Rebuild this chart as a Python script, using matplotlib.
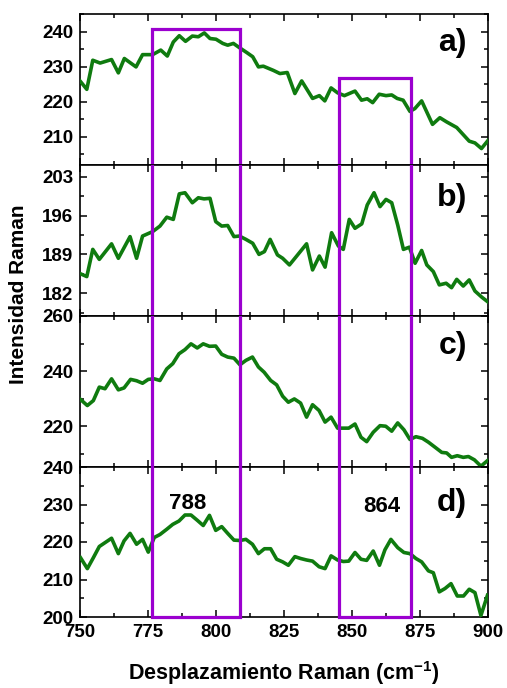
import matplotlib
matplotlib.use("Agg")
import matplotlib.pyplot as plt
from matplotlib.ticker import FixedLocator, MultipleLocator

plt.rcParams['font.family'] = ['Liberation Sans', 'DejaVu Sans']
plt.rcParams['font.weight'] = 'bold'
plt.rcParams['mathtext.fontset'] = 'custom'
plt.rcParams['mathtext.rm'] = 'Liberation Sans:bold'
plt.rcParams['mathtext.bf'] = 'Liberation Sans:bold'

# spectrum a)
xa = [750, 752.5, 754.7, 757.4, 761.6, 764.1, 766.3, 770.6, 773, 776.7, 779.7, 782.1,
      784.3, 786.5, 788.8, 791.3, 793.5, 795.7, 797.8, 800, 802.5, 804.3, 806.4, 808.6,
      811.3, 813.5, 815.6, 817.4, 821.1, 823.5, 826.2, 829, 831.5, 835.5, 838, 840,
      842.3, 844.7, 847.2, 851.1, 853.5, 855.6, 857.6, 860, 862.5, 864.6, 866.6, 868.8,
      871.3, 873.1, 875.6, 879.6, 882.3, 884.8, 888.5, 893.1, 895.2, 897.6, 900]
ya = [226, 223.6, 231.9, 231.1, 232.1, 228.3, 232.4, 230, 233.5, 233.5, 234.8, 233.1,
      237.1, 238.9, 237.3, 238.8, 238.6, 239.7, 238.1, 237.9, 236.7, 236.2, 236.7, 235.5,
      234.1, 232.9, 230, 230.2, 229, 228.1, 228.4, 222.4, 226, 221, 221.8, 220.3,
      224, 222.6, 221.8, 223.1, 220.5, 220.9, 219.8, 222.2, 221.8, 222, 221, 220.5,
      217.3, 218.1, 220.3, 213.6, 215.5, 214.3, 212.7, 208.8, 208.3, 206.7, 209]

# spectrum b)
xb = [750.2, 752.5, 754.7, 757.1, 761.6, 764.1, 768.4, 770.8, 773, 776.7, 779.4, 781.9,
      784.3, 786.5, 788.6, 791.3, 793.5, 795.6, 797.8, 799.9, 802.1, 804.3, 806.6, 808.6,
      811, 813.5, 815.8, 817.8, 819.9, 822.6, 824.5, 827, 829, 833.3, 835.5, 838, 840.1,
      842.5, 845, 846.8, 849, 851.1, 853.6, 855.6, 858.1, 860.3, 862.5, 864.6, 866.8,
      868.9, 871.1, 873.2, 875.6, 877.5, 879.9, 882.1, 884.6, 886.6, 888.5, 890.9, 893.1,
      895.2, 897.7, 899.8]
yb = [185.5, 185, 189.9, 188.1, 190.9, 188.3, 192.2, 188.3, 192.3, 193.1, 194.1, 195.7,
      195.3, 199.9, 200.1, 198.3, 199.2, 199, 199.1, 194.9, 194.1, 194.2, 192.2, 192.3,
      191.7, 191, 189, 189.5, 191.7, 188.9, 188.3, 187.1, 188.3, 190.9, 186.2, 188.7, 186.7,
      192.9, 190.5, 189.9, 195.3, 193.7, 194.5, 197.9, 200.1, 197.6, 198.9, 198.3, 194.3,
      189.9, 190.3, 187.4, 189.7, 187.1, 185.9, 183.5, 183.8, 183, 184.5, 183.3, 184.4,
      182.4, 181.3, 180.5]

# spectrum c)
xc = [750.2, 752.7, 754.9, 757.1, 759.2, 761.6, 764.1, 766.2, 768.6, 770.8, 773, 775.1,
      777.3, 779.4, 781.9, 784.1, 786.4, 788.6, 790.8, 793.1, 795.3, 797.6, 799.9, 802.1,
      804.3, 806.6, 808.8, 811, 813.4, 815.6, 817.7, 820.1, 822.3, 824.5, 826.6, 828.8,
      831.1, 833.3, 835.5, 837.9, 840.1, 842.3, 844.7, 846.8, 848.8, 851.1, 853.3, 855.4,
      857.8, 860.3, 862.4, 864.6, 866.8, 869.1, 871.3, 873.5, 875.9, 878.1, 880.5, 883,
      884.8, 886.6, 888.7, 890.9, 892.8, 895, 897.4, 899.8]
yc = [229.7, 227.5, 229.3, 234.2, 233.6, 237.2, 233.2, 233.9, 237, 236.5, 235.6, 237,
      237.2, 236.6, 240.8, 242.7, 246.3, 247.8, 249.9, 248.4, 249.9, 249, 249.1, 246.1,
      245.1, 244.7, 242.3, 243.9, 245.1, 241.5, 239.6, 236.6, 235, 230.9, 228.7, 229.9,
      228.4, 223.3, 227.8, 225.7, 221.5, 223.3, 219.3, 219.3, 219.3, 220.8, 216, 214.4,
      217.8, 220.2, 220, 218.2, 221.2, 218.7, 215.2, 216.2, 215.6, 214.2, 212.4, 210.5,
      210.3, 208.7, 209.3, 208.7, 209, 207.8, 205.5, 207.5]

# spectrum d)
xd = [750.2, 752.7, 754.9, 757.1, 761.6, 764.1, 766.2, 768.4, 770.8, 773, 775.1, 777.3,
      779.4, 781.9, 784.1, 786.4, 788.6, 790.8, 793.1, 795.3, 797.6, 799.9, 802.1, 804.3,
      806.6, 808.8, 811, 813.4, 815.6, 817.8, 820.1, 822.3, 824.5, 826.6, 829, 831.1,
      833.3, 835.5, 837.9, 840.1, 842.3, 844.7, 846.8, 848.8, 851.1, 853.3, 855.4, 857.8,
      860.1, 862.1, 864.3, 866.8, 869.1, 871.3, 873.5, 875.6, 878.1, 879.9, 882.1, 884.2,
      886.4, 888.7, 891, 893.1, 895.2, 897.4, 899.8]
yd = [215.8, 212.9, 215.8, 218.8, 221, 216.9, 220.3, 222.3, 219.4, 220.7, 217.3, 221.2,
      222, 223.4, 224.7, 225.6, 227.2, 227.2, 225.8, 224.4, 227.1, 223.1, 224.1, 222.3,
      220.5, 220.4, 220.7, 219.4, 216.9, 218.2, 218.2, 215.4, 214.7, 213.8, 216.1, 215.6,
      215.2, 214.9, 213.4, 212.9, 216.3, 215.2, 214.8, 214.9, 217.2, 215.4, 215.1, 217.6,
      213.8, 217.9, 220.7, 218.5, 217.2, 216.9, 215.6, 214.7, 212.3, 211.8, 206.7, 207.6,
      208.9, 205.6, 205.6, 207.4, 206.5, 200.4, 205.8]

labels = ['a)', 'b)', 'c)', 'd)']
ylims = [(202, 245.1), (177.9, 205.1), (205.2, 260), (200, 240)]
major_ticks = [[210, 220, 230, 240], [182, 189, 196, 203], [220, 240, 260], [200, 210, 220, 230, 240]]
minor_ticks = [[205, 215, 225, 235, 245], [178.5, 185.5, 192.5, 199.5], [210, 230, 250],
               [205, 215, 225, 235]]
label_y = [0.81, 0.78, 0.80, 0.76]

box1 = (776.3, 808.8, 240.7)   # left, right, top (in panel a units)
box2 = (845.2, 871.7, 226.9)

green = '#0f7b0f'
purple = '#9b00cf'

fig = plt.figure(figsize=(5.07, 6.88), dpi=100)
left, width = 80/507, 408/507
tops = [14, 165, 316, 467, 617]
axes = []
for i in range(4):
    b = 1 - tops[i+1]/688
    h = (tops[i+1]-tops[i])/688
    ax = fig.add_axes([left, b, width, h])
    axes.append(ax)

data = [(xa, ya), (xb, yb), (xc, yc), (xd, yd)]
for i, ax in enumerate(axes):
    x, y = data[i]
    ax.plot(x, y, color=green, lw=2.6, zorder=3)
    ax.set_xlim(750, 900)
    ax.set_ylim(*ylims[i])
    ax.xaxis.set_major_locator(MultipleLocator(25))
    ax.xaxis.set_minor_locator(MultipleLocator(12.5))
    ax.yaxis.set_major_locator(FixedLocator(major_ticks[i]))
    ax.yaxis.set_minor_locator(FixedLocator(minor_ticks[i]))
    ax.tick_params(which='both', direction='in', top=True, right=True, width=1.1)
    ax.tick_params(which='major', length=5, labelsize=13.5, pad=5)
    ax.tick_params(which='minor', length=3)
    for s in ax.spines.values():
        s.set_linewidth(1.2)
    if i < 3:
        ax.tick_params(labelbottom=False)
    for lab in ax.get_yticklabels() + ax.get_xticklabels():
        lab.set_fontweight('bold')
    ax.text(0.948, label_y[i], labels[i], transform=ax.transAxes, ha='right', va='center',
            fontsize=23, fontweight='bold')

# purple boxes spanning all panels
for (x0, x1, top) in [box1, box2]:
    axes[0].plot([x0, x0, x1, x1], [ylims[0][0], top, top, ylims[0][0]], color=purple,
                 lw=2.3, zorder=4, clip_on=False, solid_joinstyle='miter')
    for ax in axes[1:3]:
        ax.axvline(x0, color=purple, lw=2.3, zorder=4)
        ax.axvline(x1, color=purple, lw=2.3, zorder=4)
    axes[3].plot([x0, x0, x1, x1], [240, 200, 200, 240], color=purple, lw=2.3, zorder=4,
                 clip_on=False, solid_joinstyle='miter')

axes[3].text(789.7, 230.3, '788', ha='center', va='center', fontsize=16, fontweight='bold')
axes[3].text(860.9, 229.4, '864', ha='center', va='center', fontsize=16, fontweight='bold')

fig.text(left + width / 2, 1 - 673/688, 'Desplazamiento Raman (cm$^{-1}$)',
         ha='center', va='center', fontsize=15.5, fontweight='bold')
fig.text(19/507, 1 - 294/688, 'Intensidad Raman', rotation=90, ha='center', va='center',
         fontsize=15, fontweight='bold')

fig.savefig('out.png', dpi=100)
